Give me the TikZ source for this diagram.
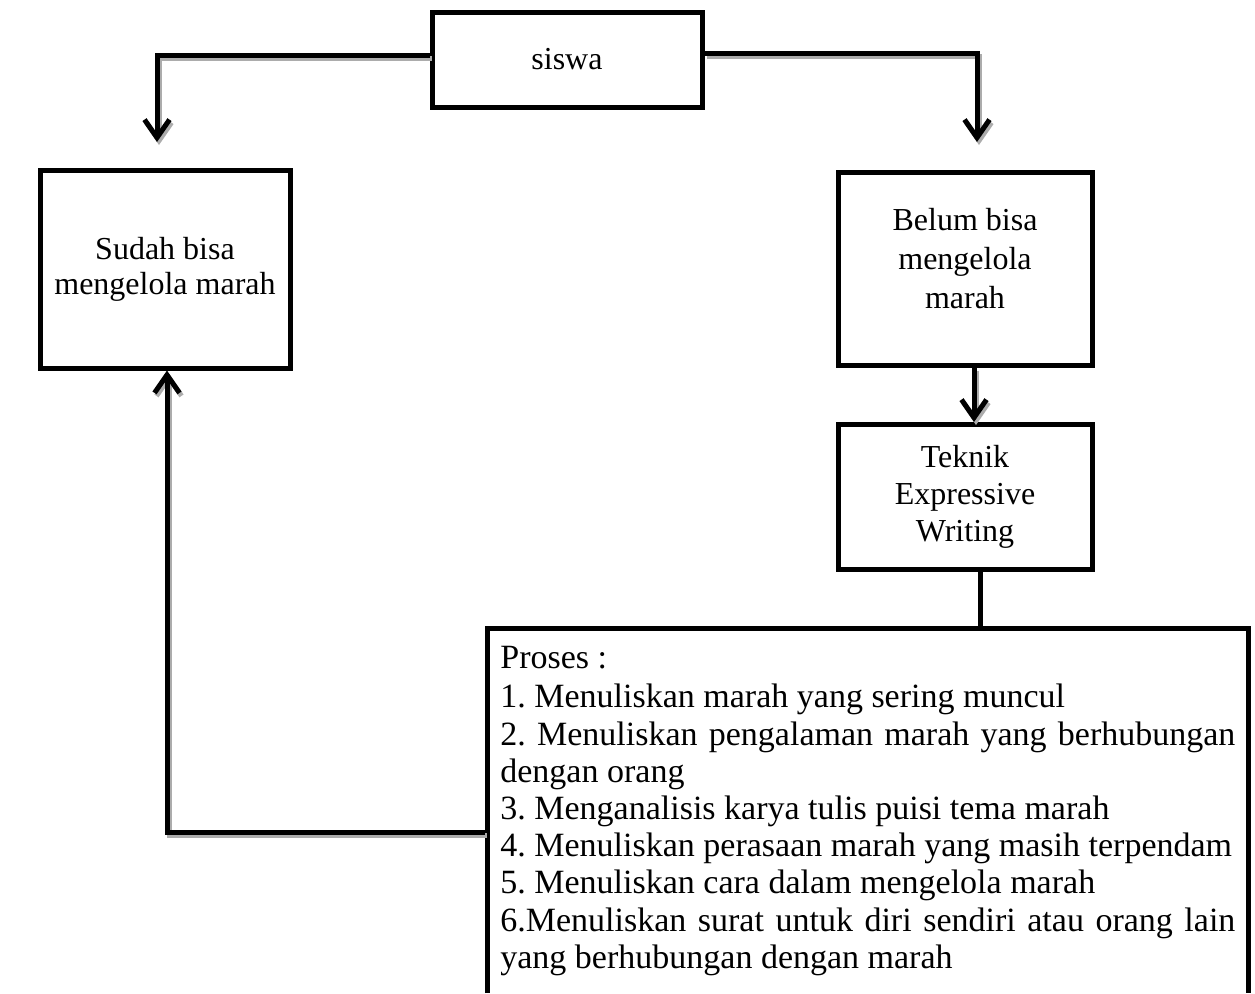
\documentclass[tikz,border=0pt]{standalone}
\usepackage{fontspec}
\setmainfont{Liberation Serif}
\usetikzlibrary{arrows.meta}
\frenchspacing
\begin{document}
\begin{tikzpicture}[x=0.5pt,y=-0.5pt,
  box/.style={draw, line width=2.5pt, inner sep=0pt, align=center,
    font=\fontsize{16}{19.5}\selectfont},
  shadowed/.style={preaction={draw=gray!65, line width=2.5pt,
    transform canvas={shift={(1pt,-1.5pt)}}}},
  conn/.style={line width=2.5pt, shadowed,
    -{Straight Barb[length=9pt,width=12.5pt]}},
  plainconn/.style={line width=2.5pt}
]
\useasboundingbox (0,0) rectangle (1255,993);

\node[box, minimum width=135pt, minimum height=47.5pt] (siswa) at (567,59.5) {siswa};
\node[box, minimum width=125pt, minimum height=99pt, font=\fontsize{16}{17.5}\selectfont] (sudah) at (165,269) {Sudah bisa\\mengelola marah};
\node[box, minimum width=127pt, minimum height=96.5pt,
  label={[yshift=5pt, align=center, font=\fontsize{16}{19.5}\selectfont]center:Belum bisa\\mengelola\\marah}] (belum) at (965,268.5) {};
\node[box, minimum width=127pt, minimum height=72.5pt, font=\fontsize{16}{18.6}\selectfont] (teknik) at (965,497) {Teknik\\Expressive\\Writing};

\node[anchor=north west, inner xsep=6.5pt, inner ysep=9pt, text width=367.5pt,
  align=justify, font=\fontsize{17}{18.6}\selectfont] (proses) at (487,628) {%
Proses :\par\vspace{1pt}
1. Menuliskan marah yang sering muncul\par
2. Menuliskan pengalaman marah yang berhubungan\linebreak dengan orang\par
3. Menganalisis karya tulis puisi tema marah\par
4. Menuliskan perasaan marah yang masih terpendam\par
5. Menuliskan cara dalam mengelola marah\par
6.Menuliskan surat untuk diri sendiri atau orang lain\linebreak yang berhubungan dengan marah\par};

\coordinate (bl) at (487,993);
\coordinate (br) at (1248,993);
\draw[line width=2.5pt] (bl) -- (bl |- 0,628) -- (br |- 0,628) -- (br);

\coordinate (ltip) at (157,142);
\coordinate (rtip) at (977,142);
\coordinate (fb) at (485,832);
\coordinate (ptop) at (980,628);

\draw[conn] ([yshift=2.25pt]siswa.west) -| (ltip);
\draw[conn] ([yshift=3.25pt]siswa.east) -| (rtip);
\draw[conn] ([xshift=4.5pt]belum.south) -- ([xshift=4.5pt]teknik.north);
\draw[plainconn] ([xshift=7.5pt]teknik.south) -- (ptop);
\draw[conn] (fb) -| ([xshift=1pt]sudah.south);
\end{tikzpicture}
\end{document}
